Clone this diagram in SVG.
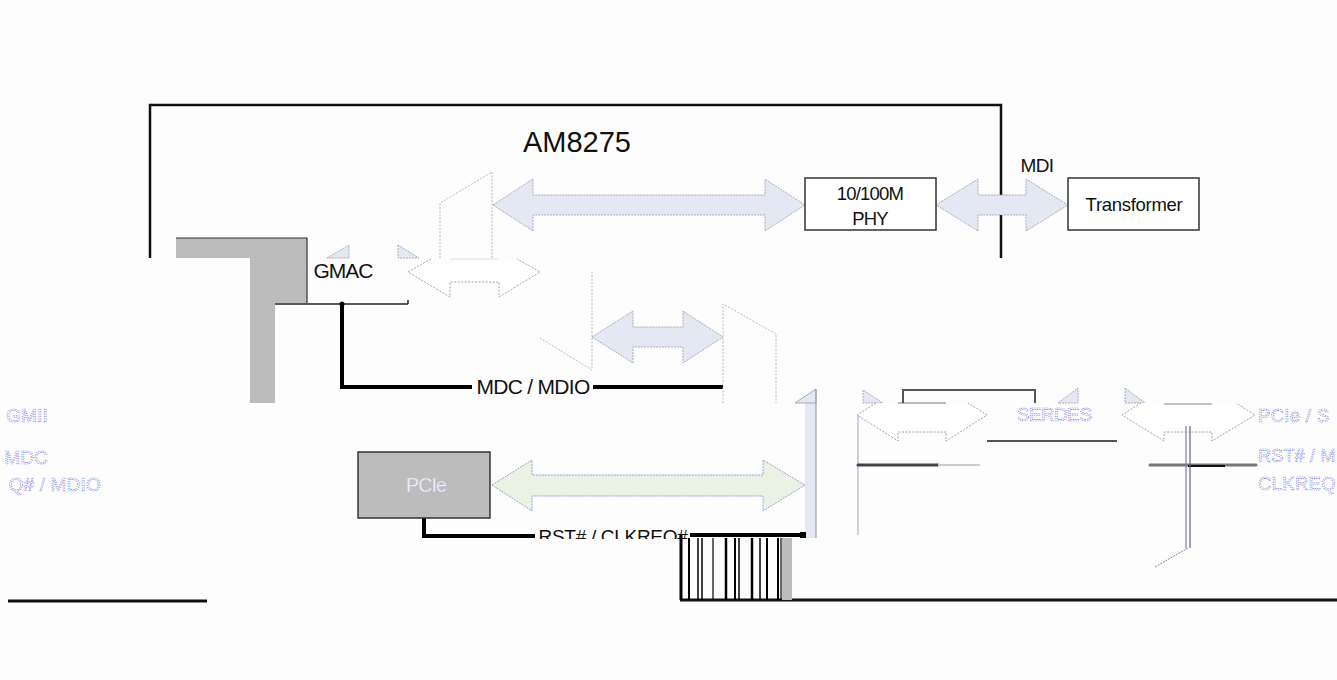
<svg xmlns="http://www.w3.org/2000/svg" width="1337" height="680" viewBox="0 0 1337 680">
<defs>
<style>
.t{font-family:"Liberation Sans",Arial,sans-serif;fill:#111}
.ghost{font-family:"Liberation Sans",Arial,sans-serif;fill:#f8f8fc;stroke:#5a5ad8;stroke-width:0.6;stroke-dasharray:1.2 1.2}
.box{fill:#fff;stroke:#333;stroke-width:1.5}
.grey{fill:#bcbcbc}
.arr{fill:#e4e8f3;stroke:#9a9aa6;stroke-width:0.8;stroke-dasharray:2 1}
.garr{fill:#e9f2e4;stroke:#8a8ad0;stroke-width:0.8;stroke-dasharray:2 1}
.wout{fill:#fff;stroke:#8c8c96;stroke-width:0.8;stroke-dasharray:2 1.5}
.mux{fill:none;stroke:#a8a8b0;stroke-width:0.8;stroke-dasharray:2 1.5}
.thick{fill:none;stroke:#000;stroke-width:4}
.bar{stroke:#000}
</style>
<clipPath id="rstclip"><rect x="500" y="500" width="220" height="39"/></clipPath>
</defs>
<rect width="1337" height="680" fill="#fdfdfd"/>

<g id="frame">
<path d="M150,258 V105 H1001 V258" fill="none" stroke="#111" stroke-width="2.5"/>
<text class="t" x="577" y="152" font-size="29" text-anchor="middle">AM8275</text>
</g>

<g id="connectors">
<polygon class="arr" points="493,205 533,179 533,195 765,195 765,179 805,205 765,231 765,215 533,215 533,231"/>
<polygon class="arr" points="936,205 978,179 978,195 1026,195 1026,179 1068,205 1026,231 1026,215 978,215 978,231"/>
<polygon class="arr" points="592,337 633,311 633,327 683,327 683,311 723,337 683,363 683,347 633,347 633,363"/>
<polygon class="garr" points="492,485 532,460 532,475 763,475 763,460 805,485 763,511 763,496 532,496 532,511"/>
<polygon class="arr" points="327,258 349,245 349,258"/>
<polygon class="arr" points="398,245 398,258 419,258"/>
<path class="wout" d="M431,259 L408,272 L450,297 L450,282 L499,282 L499,297 L540,272 L517,259"/>
<line x1="450" y1="259" x2="499" y2="259" stroke="#e8d8e8" stroke-width="1"/>
<polygon class="arr" points="863,390 863,403 883,403"/>
<polygon class="arr" points="1058,403 1078,388 1078,403"/>
<polygon class="arr" points="1125,388 1125,403 1145,403"/>
<path class="wout" d="M876,403 L857,415 L898,441 L898,432 L946,432 L946,441 L987,415 L968,403"/>
<line x1="898" y1="403" x2="946" y2="403" stroke="#777" stroke-width="1.2"/>
<path class="wout" d="M1141,403 L1122,415 L1164,441 L1164,432 L1212,432 L1212,441 L1255,415 L1236,403"/>
<line x1="1164" y1="404" x2="1212" y2="404" stroke="#888" stroke-width="1"/>
<path d="M903,403 V390 H1035 V403" fill="none" stroke="#555" stroke-width="2"/>
<line x1="987" y1="441" x2="1117" y2="441" stroke="#555" stroke-width="2"/>
<line x1="858" y1="415" x2="858" y2="535" stroke="#b0b0d0" stroke-width="1.2"/>
<line x1="858" y1="465" x2="938" y2="465" stroke="#444" stroke-width="3" stroke-linecap="round"/>
<line x1="938" y1="465" x2="980" y2="465" stroke="#ccc" stroke-width="2"/>
<line x1="1150" y1="465" x2="1256" y2="465" stroke="#777" stroke-width="3" stroke-linecap="round"/>
<line x1="1188" y1="466" x2="1225" y2="466" stroke="#111" stroke-width="2"/>
<line x1="1186" y1="426" x2="1186" y2="548" stroke="#7777cc" stroke-width="1.2"/>
<line x1="1190" y1="426" x2="1190" y2="548" stroke="#666" stroke-width="1.2"/>
<line x1="1188" y1="548" x2="1155" y2="567" stroke="#888" stroke-width="1" stroke-dasharray="2 1"/>
<line x1="275" y1="304" x2="408" y2="304" stroke="#222" stroke-width="1.5"/>
<line x1="408" y1="304" x2="408" y2="300" stroke="#222" stroke-width="1.5"/>
<path class="thick" d="M342,304 V387 H472"/>
<line x1="593" y1="387" x2="723" y2="387" stroke="#000" stroke-width="4"/>
<circle cx="342" cy="304" r="2.5" fill="#000"/>
<text class="t" x="533" y="394" font-size="21" text-anchor="middle" letter-spacing="-0.7">MDC / MDIO</text>
<path class="thick" d="M424,518 V536 H535"/>
<line x1="690" y1="535" x2="806" y2="535" stroke="#000" stroke-width="4"/>
<g clip-path="url(#rstclip)"><text class="t" x="613" y="543" font-size="19" text-anchor="middle" letter-spacing="-0.3">RST# / CLKREQ#</text></g>
<line x1="8" y1="601" x2="207" y2="601" stroke="#111" stroke-width="3"/>
<line x1="680" y1="600" x2="1337" y2="600" stroke="#111" stroke-width="3"/>
</g>

<g id="mux1">
<path class="mux" d="M440,258 V203 L492,172 V258"/>
</g>
<g id="mux2">
<path class="mux" d="M540,338 L592,370 V270"/>
</g>
<g id="mux3">
<path class="mux" d="M723,403 V304 L776,334 V403"/>
</g>
<g id="mux4">
<rect x="805" y="403" width="11" height="135" fill="#e4e8f3"/>
<polygon points="795,403 816,389 816,403" fill="#e4e8f3" stroke="#999" stroke-width="0.8"/>
<line x1="816" y1="389" x2="816" y2="538" stroke="#a0a0a8" stroke-width="1.2"/>
<rect x="800" y="532" width="6" height="6" fill="#000"/>
</g>

<g id="phy">
<rect class="box" x="805" y="178" width="131" height="52"/>
<text class="t" x="870" y="200" font-size="18.5" text-anchor="middle" letter-spacing="-0.8">10/100M</text>
<text class="t" x="870" y="225" font-size="18.5" text-anchor="middle" letter-spacing="-0.8">PHY</text>
</g>

<g id="transformer">
<rect class="box" x="1068" y="178" width="131" height="52"/>
<text class="t" x="1134" y="211" font-size="18.5" text-anchor="middle" letter-spacing="-0.3">Transformer</text>
<text class="t" x="1037" y="172" font-size="19" text-anchor="middle" letter-spacing="-0.6">MDI</text>
</g>

<g id="gmac">
<path class="grey" d="M176,238 H307 V303 H275 V403 H250 V258 H176 Z"/>
<path d="M176,238 H307 V303" fill="none" stroke="#333" stroke-width="1.2"/>
<text class="t" x="343" y="278" font-size="21" text-anchor="middle" letter-spacing="-1">GMAC</text>
</g>

<g id="pcie">
<rect x="358" y="452" width="132" height="66" fill="#bcbcbc" stroke="#333" stroke-width="1.5"/>
<text x="426" y="492" font-size="19.5" text-anchor="middle" fill="#f4f4f4" stroke="#bbbbdd" stroke-width="0.4" font-family="Liberation Sans, Arial, sans-serif" letter-spacing="-0.8">PCIe</text>
</g>

<g id="serdes">
<text class="ghost" x="1054" y="421" font-size="19" text-anchor="middle" letter-spacing="-0.6">SERDES</text>
</g>

<g id="barcode">
<line x1="681" y1="535" x2="681" y2="600" stroke="#000" stroke-width="3"/>
<g class="bar">
<line x1="689" y1="538" x2="689" y2="600" stroke-width="2"/>
<line x1="698" y1="538" x2="698" y2="600" stroke-width="1.5"/>
<line x1="702" y1="538" x2="702" y2="600" stroke-width="1.5"/>
<line x1="713" y1="538" x2="713" y2="600" stroke-width="1.2"/>
<line x1="726" y1="538" x2="726" y2="600" stroke-width="2.5"/>
<line x1="735" y1="538" x2="735" y2="600" stroke-width="2"/>
<line x1="739" y1="538" x2="739" y2="600" stroke-width="1.5"/>
<line x1="752" y1="538" x2="752" y2="600" stroke-width="2.5"/>
<line x1="760" y1="538" x2="760" y2="600" stroke-width="1.5"/>
<line x1="767" y1="538" x2="767" y2="600" stroke-width="2"/>
<line x1="778" y1="538" x2="778" y2="600" stroke-width="2"/>
<line x1="781" y1="538" x2="781" y2="600" stroke-width="1.2"/>
</g>
<rect x="782" y="538" width="10" height="62" fill="#bcbcbc"/>
</g>

<g id="side-labels">
<text class="ghost" x="1258" y="422" font-size="18.5" letter-spacing="0.3">PCIe / S</text>
<text class="ghost" x="1258" y="462" font-size="18" letter-spacing="0.2">RST# / M</text>
<text class="ghost" x="1258" y="490" font-size="18.5" letter-spacing="0.3">CLKREQ</text>
<text class="ghost" x="48" y="422" font-size="19" text-anchor="end" letter-spacing="0.2">GMII</text>
<text class="ghost" x="48" y="464" font-size="19" text-anchor="end" letter-spacing="0.2">MDC</text>
<text class="ghost" x="101" y="491" font-size="19" text-anchor="end" letter-spacing="0.2">Q# / MDIO</text>
</g>
</svg>
